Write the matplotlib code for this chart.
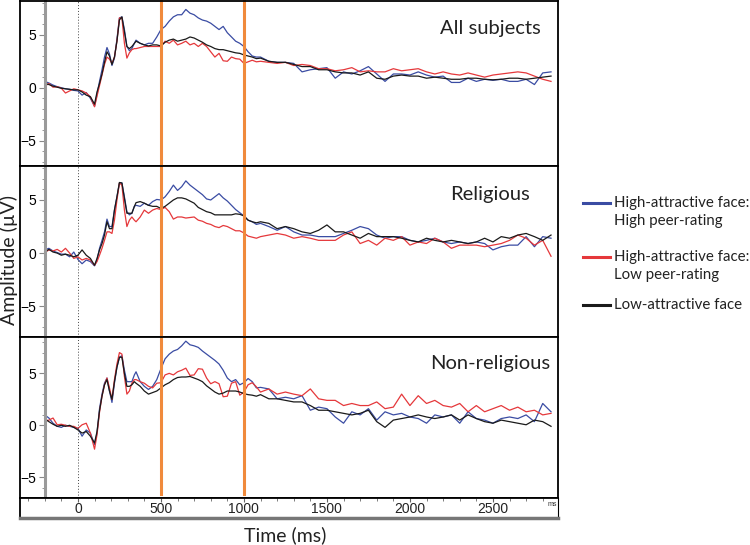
import matplotlib.pyplot as plt
import matplotlib.transforms as mtransforms
from matplotlib.lines import Line2D
import numpy as np

plt.rcParams['font.family'] = ['Liberation Sans', 'DejaVu Sans']

# time grid in ms (finer around the early peaks)
t = np.concatenate([np.arange(-200, 100, 25), np.arange(100, 341, 15),
                    np.arange(350, 1076, 25), np.arange(1100, 2851, 50)])

# ---- All subjects ----
all_blue = [0.6, 0.45, 0.25, 0.1, 0.0, -0.1, -0.15, -0.25, -0.3, -0.7, -0.45, -1.0,
            -1.75, -0.6, 0.6, 1.7, 2.9, 3.8, 3.2, 2.1, 2.8, 4.6, 6.6, 6.7, 5.5, 3.9, 3.5, 3.7, 4.2,
            4.5, 4.2, 4.05, 4.2, 4.2, 4.8, 5.5, 5.8, 6.3, 6.7, 6.9, 6.9, 7.4, 7.05, 6.9, 6.6, 6.4, 6.3,
            6.1, 5.8, 5.5, 5.8, 5.2, 4.8, 4.4, 4.2, 3.9, 3.4, 3.0, 2.9,
            2.9, 2.5, 2.4, 2.4, 2.3, 1.5, 1.7, 1.8, 1.9, 0.9, 1.5, 1.3, 1.6, 2.0, 1.3, 0.6, 1.3, 1.3,
            1.2, 1.5, 1.2, 1.0, 1.1, 0.5, 0.5, 0.9, 0.6, 0.8, 0.7, 0.8, 0.6, 0.6, 0.8, 0.3, 1.4, 1.5]
all_red = [0.15, 0.4, 0.05, 0.1, -0.05, -0.5, -0.3, -0.1, -0.2, -0.3, -0.5, -0.85,
           -1.8, -0.8, 0.2, 1.2, 2.2, 2.9, 2.7, 2.3, 2.9, 4.4, 6.6, 6.6, 4.2, 2.8, 3.3, 3.6, 3.7,
           3.7, 3.8, 3.9, 3.9, 3.9, 3.9, 3.9, 4.4, 4.2, 4.5, 4.05, 4.2, 4.4, 4.05, 4.2, 3.9, 4.2, 3.9,
           3.4, 2.9, 3.25, 2.55, 2.5, 2.9, 2.75, 2.7, 2.3, 2.45, 2.6, 2.45,
           2.5, 2.4, 2.3, 2.4, 2.1, 2.2, 2.1, 1.8, 1.8, 1.6, 1.7, 1.9, 1.5, 1.6, 1.5, 1.5, 1.8, 1.6,
           1.7, 1.8, 1.5, 1.3, 1.5, 1.3, 1.2, 1.4, 1.2, 1.0, 1.2, 1.3, 1.4, 1.5, 1.4, 1.1, 0.8, 0.6]
all_black = [0.4, 0.3, 0.15, 0.05, -0.05, -0.1, -0.15, -0.2, -0.2, -0.4, -0.7, -0.85,
             -1.55, -0.4, 0.4, 1.3, 2.4, 3.4, 3.0, 2.2, 2.9, 4.4, 6.4, 6.7, 5.3, 3.9, 3.7, 3.9, 4.2,
             4.4, 4.2, 4.05, 3.95, 4.05, 4.05, 3.95, 4.3, 4.5, 4.6, 4.4, 4.5, 4.6, 4.8, 4.7, 4.5, 4.3,
             4.05, 3.9, 3.7, 3.6, 3.6, 3.5, 3.4, 3.3, 3.25, 3.1, 3.0, 2.9, 2.75,
             2.8, 2.5, 2.4, 2.4, 2.2, 2.0, 2.0, 1.7, 1.7, 1.5, 1.4, 1.4, 1.2, 1.5, 0.9, 0.8, 1.1, 1.2,
             1.1, 1.1, 0.9, 1.0, 0.9, 0.8, 0.8, 0.9, 0.9, 0.8, 0.75, 0.8, 0.9, 0.9, 0.8, 0.9, 1.0, 1.1]

# ---- Religious ----
rel_blue = [0.3, 0.45, 0.2, 0.05, -0.1, -0.1, -0.35, 0.1, -0.6, -1.0, -0.65, -0.8,
            -1.2, -0.65, 0.45, 1.2, 2.0, 3.2, 2.5, 2.5, 4.05, 5.3, 6.6, 6.6, 5.3, 3.9, 3.6, 3.75, 4.4,
            4.5, 4.4, 4.7, 4.5, 4.85, 5.05, 5.0, 5.3, 5.8, 6.4, 5.9, 6.25, 6.8, 6.4, 6.1, 5.8, 5.5,
            5.1, 5.0, 5.3, 5.6, 5.2, 4.9, 4.5, 4.1, 3.8, 3.5, 3.1, 2.95, 2.7,
            2.8, 2.5, 2.15, 2.5, 2.0, 1.7, 1.7, 1.55, 1.55, 1.55, 1.85, 2.15, 2.5, 2.3, 1.7, 1.4, 1.55,
            1.55, 1.2, 1.05, 1.2, 1.4, 1.05, 0.9, 1.05, 0.9, 1.05, 0.9, 0.3, 0.6, 0.75, 0.75, 1.55,
            0.6, 1.55, 1.4]
rel_red = [0.05, 0.3, 0.2, 0.35, 0.1, 0.45, 0.0, -0.5, -0.35, -0.65, -0.5, -0.65,
           -1.15, -0.8, -0.2, 0.45, 1.2, 2.0, 2.0, 1.85, 3.1, 5.0, 6.6, 6.4, 4.05, 2.5, 3.1, 3.4, 3.1,
           2.95, 3.4, 4.05, 3.75, 4.05, 4.2, 4.1, 4.3, 3.9, 3.2, 3.4, 3.4, 3.3, 3.35, 3.4, 3.1, 3.0,
           2.8, 2.7, 2.5, 2.4, 2.6, 2.5, 2.3, 2.1, 2.1, 1.9, 1.6, 1.5, 1.4,
           1.55, 1.7, 1.85, 1.7, 1.4, 1.55, 1.4, 1.2, 1.2, 1.2, 1.7, 2.0, 0.9, 1.2, 0.75, 1.4, 1.2,
           1.55, 0.75, 1.05, 0.9, 1.4, 1.05, 0.45, 0.75, 0.75, 0.75, 0.6, 0.75, 0.9, 1.2, 1.7, 1.4,
           0.75, 1.2, -0.3]
rel_black = [0.1, 0.35, 0.1, 0.0, -0.2, -0.1, -0.2, -0.35, -0.2, 0.3, -0.2, -0.5,
             -1.15, -0.5, 0.3, 0.9, 1.7, 2.95, 2.3, 2.3, 4.05, 5.3, 6.65, 6.6, 5.15, 3.75, 3.75, 3.75,
             4.4,
             4.75, 4.85, 4.7, 4.5, 4.4, 4.4, 4.2, 4.4, 4.7, 5.0, 5.2, 5.2, 5.1, 4.9, 4.7, 4.3, 4.1,
             3.9, 3.8, 3.6, 3.6, 3.6, 3.6, 3.6, 3.7, 3.65, 3.5, 3.1, 2.95, 2.85,
             2.95, 2.8, 2.3, 2.5, 2.3, 2.0, 1.85, 2.15, 2.65, 2.0, 2.0, 1.7, 1.4, 1.85, 1.55, 1.55, 1.55,
             1.4, 1.2, 1.05, 1.4, 1.2, 1.05, 1.2, 1.05, 0.9, 1.05, 1.4, 1.05, 1.55, 1.4, 1.7, 1.85,
             1.55, 1.2, 1.7]

# ---- Non-religious ----
non_blue = [1.0, 0.7, 0.2, -0.1, -0.2, 0.0, -0.1, -0.2, -0.3, -1.05, -0.45, -0.75,
            -1.85, -0.75, 1.6, 3.0, 4.05, 4.55, 3.3, 2.2, 4.05, 5.6, 6.55, 6.7, 5.3, 4.2, 4.2, 4.2, 4.85,
            5.15, 4.2, 3.75, 3.45, 3.75, 4.4, 5.45, 6.4, 6.85, 7.15, 7.3, 7.65, 8.1, 7.75, 7.65, 7.5,
            7.15, 6.85, 6.55, 6.25, 5.9, 5.3, 4.55, 4.2, 4.4, 3.9, 4.1, 4.5, 4.2, 3.6,
            3.65, 3.5, 2.55, 2.7, 2.55, 2.85, 1.45, 1.75, 1.6, 0.8, 0.2, 1.3, 1.0, 1.6, 0.5, 1.3, 1.0,
            1.15, 0.8, 0.65, 0.2, 1.0, 0.8, 1.0, 0.2, 1.3, 0.65, 0.5, 0.2, 0.65, 0.8, 0.65, 1.0, 0.35,
            2.1, 1.3]
non_red = [0.35, 0.5, 0.7, 0.05, 0.1, 0.0, -0.1, -0.1, -0.3, 0.05, 0.2, -0.75,
           -2.3, -0.9, 1.25, 2.8, 3.9, 4.55, 3.6, 2.5, 4.4, 5.9, 7.0, 6.85, 4.7, 3.0, 3.3, 4.05, 4.4,
           4.4, 4.2, 4.05, 3.75, 3.6, 4.05, 4.1, 4.85, 5.0, 4.85, 5.15, 5.3, 5.5, 4.8, 4.85, 5.45, 5.4,
           4.55, 4.0, 4.2, 4.0, 2.75, 2.8, 4.05, 4.2, 2.9, 3.2, 3.9, 4.1, 3.7,
           3.2, 3.5, 3.0, 3.2, 3.0, 2.85, 3.5, 2.55, 2.4, 2.4, 1.9, 2.1, 1.9, 1.9, 2.25, 1.6, 1.75,
           3.0, 1.9, 2.85, 2.1, 2.4, 1.9, 1.75, 2.1, 1.3, 1.9, 1.3, 1.6, 1.9, 1.45, 1.75, 1.3, 1.45,
           1.0, 1.15]
non_black = [0.65, 0.35, 0.1, -0.1, 0.0, -0.1, 0.0, -0.2, -0.45, -0.75, -0.6, -1.05,
             -1.7, -0.6, 1.4, 2.8, 3.9, 4.4, 3.3, 2.5, 4.2, 5.6, 6.55, 6.55, 5.0, 3.75, 3.75, 3.9, 4.2,
             4.05, 3.75, 3.3, 3.0, 3.15, 3.3, 3.6, 3.9, 4.1, 4.4, 4.6, 4.65, 4.65, 4.7, 4.55, 4.4, 4.2,
             3.8, 3.5, 3.2, 3.0, 3.1, 3.3, 3.3, 3.3, 3.2, 3.05, 2.95, 2.9, 2.8,
             2.95, 2.55, 2.55, 2.4, 2.25, 2.25, 1.9, 1.45, 1.45, 1.3, 1.15, 1.0, 1.15, 1.45, 0.35, -0.2,
             0.5, 0.65, 0.8, 1.0, 0.8, 0.65, 0.8, 1.0, 0.5, 1.0, 0.65, 0.35, 0.2, 0.5, 0.35, 0.2, 0.05,
             0.5, 0.35, -0.1]

panels = ['All subjects', 'Religious', 'Non-religious']
panel_data = [(all_blue, all_red, all_black), (rel_blue, rel_red, rel_black),
              (non_blue, non_red, non_black)]
ylims = [(-7.4, 8.2), (-7.9, 8.2), (-6.7, 8.5)]
legend_labels = [['High-attractive face:', 'High peer-rating'],
                 ['High-attractive face:', 'Low peer-rating'],
                 ['Low-attractive face']]
colors = ['#3a4ca3', '#e5383b', '#1a1a1a']
xtick_vals = [0, 500, 1000, 1500, 2000, 2500]
windows = [500, 1000]

for d in panel_data:
    for s in d:
        assert len(s) == len(t), len(s)

W, H = 750, 545
fig = plt.figure(figsize=(W / 100, H / 100), dpi=100)


def add_ax(x0, ytop, x1, ybot):
    return fig.add_axes([x0 / W, 1 - ybot / H, (x1 - x0) / W, (ybot - ytop) / H])


xlim = (-349, 2892)
bounds = [(1, 166), (166, 337), (337, 498)]
for i, (ytop, ybot) in enumerate(bounds):
    ax = add_ax(20, ytop, 558, ybot)
    for s, c in zip(panel_data[i], colors):
        ax.plot(t, s, color=c, lw=0.9)
    ax.set_xlim(*xlim)
    ax.set_ylim(*ylims[i])
    ax.axvline(0, color='#444', ls=(0, (1, 2)), lw=0.7)
    for w in windows:
        ax.axvline(w, ymin=(4 / 161 if i == 2 else 0), color='#f08a3c', lw=2.2, clip_on=False)
    ax.spines['left'].set_position(('data', -200))
    ax.spines['left'].set_color('#9a9a9a')
    ax.spines['left'].set_linewidth(2.2)
    for sp in ['top', 'bottom', 'right']:
        ax.spines[sp].set_linewidth(1.3)
    ax.set_xticks([])
    ax.set_yticks([-5, 0, 5])
    ax.set_yticks(np.arange(-7, 9, 1), minor=True)
    ax.tick_params(axis='y', which='major', length=4, color='#888', labelsize=10, pad=2)
    ax.tick_params(axis='y', which='minor', length=2.5, color='#888')
    ax.text(0.874, 0.835, panels[i], transform=ax.transAxes, ha='center', va='center',
            fontsize=14.5, family='Lato', color='#222')

# outer left edge of the box
fig.add_artist(Line2D([20 / W, 20 / W], [1 - 498 / H, 1 - 1 / H], color='k', lw=1.3))

# time strip below the panels
sx = add_ax(20, 498, 558, 518)
sx.set_xlim(*xlim)
sx.set_ylim(0, 1)
sx.set_yticks([])
sx.set_xticks(xtick_vals)
sx.set_xticks(np.arange(-300, 2900, 100), minor=True)
sx.tick_params(axis='x', which='both', direction='in', top=True, bottom=False,
               labelbottom=False, color='#666')
sx.tick_params(axis='x', which='major', length=3)
sx.tick_params(axis='x', which='minor', length=2)
trans = mtransforms.blended_transform_factory(sx.transData, sx.transAxes)
for v in xtick_vals:
    sx.text(v, 0.45, str(v), transform=trans, ha='center', va='center', fontsize=10, color='#222')
sx.text(2855, 0.7, 'ms', transform=trans, ha='center', va='center', fontsize=5, color='#333')
sx.spines['top'].set_linewidth(1.3)
sx.spines['bottom'].set_color('#777')
sx.spines['bottom'].set_linewidth(2.5)
sx.spines['left'].set_linewidth(1.3)

# axis titles
fig.text(9 / W, 1 - 260 / H, 'Amplitude (µV)', rotation=90, ha='center', va='center',
         fontsize=14, family='Lato', color='#222')
fig.text(285 / W, 1 - 535 / H, 'Time (ms)', ha='center', va='center',
         fontsize=14, family='Lato', color='#222')

# legend outside the box
leg_y = [203, 257, 305]
for c, lines, y in zip(colors, legend_labels, leg_y):
    fig.add_artist(Line2D([583 / W, 610 / W], [1 - y / H] * 2, color=c, lw=2.2))
    for k, txt in enumerate(lines):
        fig.text(614 / W, 1 - (y + 18 * k) / H, txt, ha='left', va='center',
                 fontsize=10.8, family='Lato', color='#222')

fig.savefig('out.png', dpi=100)
